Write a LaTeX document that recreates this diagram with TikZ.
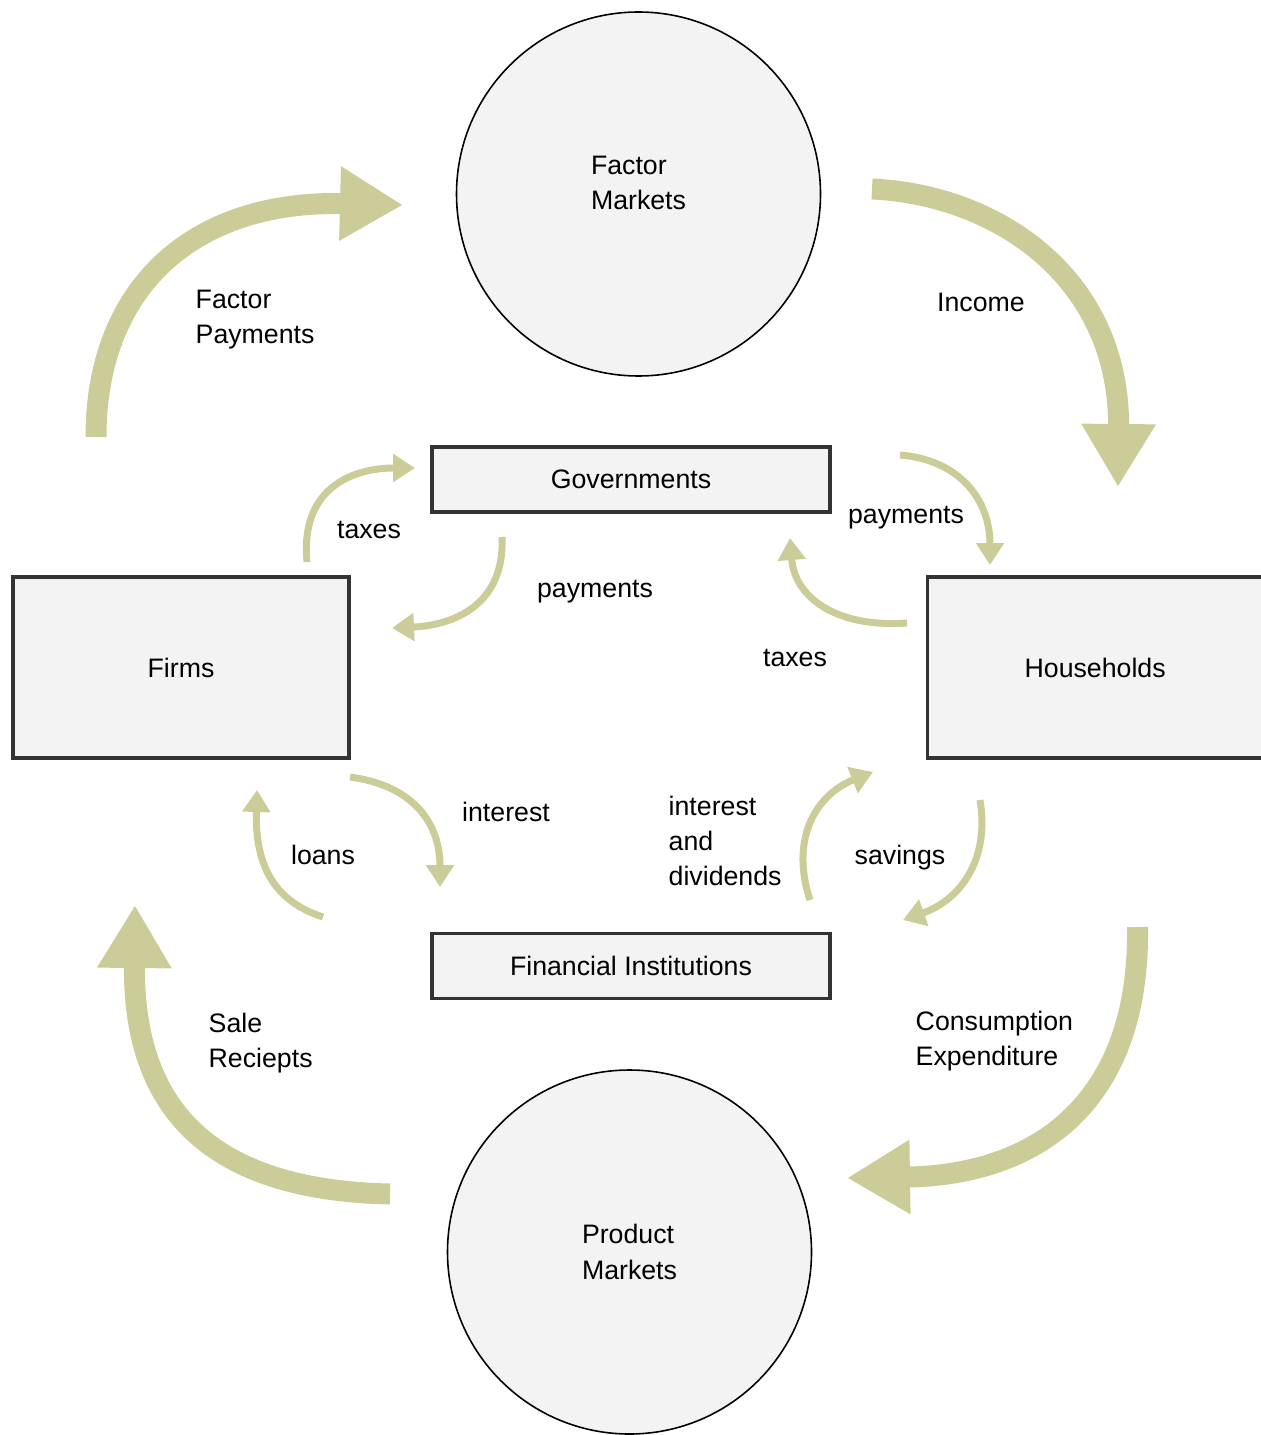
\documentclass[tikz,border=0pt]{standalone}
\usepackage{fontspec}
\setmainfont{Liberation Sans}
\usepackage{xcolor}
\usepackage{tikz}
\usetikzlibrary{positioning,arrows.meta}
\definecolor{flow}{RGB}{204,204,153}
\definecolor{boxfill}{RGB}{243,243,243}

\begin{document}
\begin{tikzpicture}[
    font=\fontsize{7.6}{10}\selectfont,
    market/.style={circle, minimum size=3.64cm, inner sep=0pt, draw=black, line width=0.45pt, fill=boxfill, align=left},
    sector/.style={rectangle, draw=black!80, line width=0.9pt, fill=boxfill, text centered},
    bigflow/.style={draw=flow, line width=0.21cm, -{Triangle[length=0.63cm, width=0.7cm]}},
    smallflow/.style={draw=flow, line width=0.07cm, -{Triangle[length=0.22cm, width=0.27cm]}},
    lbl/.style={align=left, inner sep=0pt}
]

\useasboundingbox (0,0) rectangle (12.6,-14.35);

% Markets
\node (factor) [market, text depth=0.22cm] at (6.385,-1.94) {Factor\\Markets};
\node (product) [market] at (6.295,-12.52) {Product\\Markets};

% Sectors
\node (gov) [sector, minimum width=3.98cm, minimum height=0.65cm] at (6.31,-4.795) {Governments};
\node (fin) [sector, minimum width=3.98cm, minimum height=0.65cm, below=4.18cm of gov] {Financial Institutions};
\node (firms) [sector, minimum width=3.36cm, minimum height=1.81cm] at (1.81,-6.675) {Firms};
\node (house) [sector, minimum width=3.36cm, minimum height=1.81cm, right=5.75cm of firms] {Households};

% Flow ends
\coordinate (fp-s) at (0.96,-4.37);   \coordinate (fp-e) at (4.03,-2.05);
\coordinate (in-s) at (8.72,-1.89);   \coordinate (in-e) at (11.18,-4.87);
\coordinate (ce-s) at (11.375,-9.27); \coordinate (ce-e) at (8.47,-11.78);
\coordinate (sr-s) at (3.90,-11.94);  \coordinate (sr-e) at (1.35,-9.05);
\coordinate (tx1-s) at (3.07,-5.62);  \coordinate (tx1-e) at (4.15,-4.68);
\coordinate (pm1-s) at (5.02,-5.37);  \coordinate (pm1-e) at (3.92,-6.28);
\coordinate (pm2-s) at (9.00,-4.55);  \coordinate (pm2-e) at (9.90,-5.65);
\coordinate (tx2-s) at (9.07,-6.23);  \coordinate (tx2-e) at (7.90,-5.38);
\coordinate (it-s) at (3.50,-7.77);   \coordinate (it-e) at (4.40,-8.87);
\coordinate (ln-s) at (3.23,-9.17);   \coordinate (ln-e) at (2.57,-7.90);
\coordinate (id-s) at (8.10,-9.00);   \coordinate (id-e) at (8.73,-7.72);
\coordinate (sv-s) at (9.80,-8.00);   \coordinate (sv-e) at (9.03,-9.20);

% Circular flows
\draw[bigflow] (fp-s) .. controls (0.96,-2.90) and (1.90,-2.00) .. (fp-e);
\draw[bigflow] (in-s) .. controls (10.0,-1.95) and (11.2,-2.8) .. (in-e);
\draw[bigflow] (ce-s) .. controls (11.4,-11.0) and (10.4,-11.75) .. (ce-e);
\draw[bigflow] (sr-s) .. controls (2.0,-11.9) and (1.33,-11.0) .. (sr-e);

% Government and financial flows
\draw[smallflow] (tx1-s) .. controls (3.00,-4.90) and (3.50,-4.68) .. (tx1-e);
\draw[smallflow] (pm1-s) .. controls (5.05,-6.00) and (4.60,-6.25) .. (pm1-e);
\draw[smallflow] (pm2-s) .. controls (9.60,-4.60) and (9.90,-5.00) .. (pm2-e);
\draw[smallflow] (tx2-s) .. controls (8.40,-6.28) and (7.95,-6.00) .. (tx2-e);
\draw[smallflow] (it-s) .. controls (4.10,-7.85) and (4.40,-8.20) .. (it-e);
\draw[smallflow] (ln-s) .. controls (2.70,-9.00) and (2.55,-8.60) .. (ln-e);
\draw[smallflow] (id-s) .. controls (7.90,-8.40) and (8.15,-7.95) .. (id-e);
\draw[smallflow] (sv-s) .. controls (9.90,-8.60) and (9.60,-9.00) .. (sv-e);

% Labels
\node (fp-lbl) [lbl, anchor=west] at (1.95,-3.20) {Factor\\Payments};
\node (in-lbl) [lbl] at (9.81,-3.02) {Income};
\node (ce-lbl) [lbl, anchor=west] at (9.15,-10.41) {Consumption\\Expenditure};
\node (sr-lbl) [lbl, anchor=west] at (2.08,-10.43) {Sale\\Reciepts};
\node (tx1-lbl) [lbl] at (3.69,-5.30) {taxes};
\node (pm1-lbl) [lbl] at (5.95,-5.92) {payments};
\node (pm2-lbl) [lbl] at (9.06,-5.18) {payments};
\node (tx2-lbl) [lbl] at (7.95,-6.58) {taxes};
\node (it-lbl) [lbl] at (5.06,-8.12) {interest};
\node (ln-lbl) [lbl] at (3.23,-8.55) {loans};
\node (id-lbl) [lbl, anchor=west] at (6.68,-8.41) {interest\\and\\dividends};
\node (sv-lbl) [lbl] at (9.00,-8.58) {savings};

\end{tikzpicture}
\end{document}
